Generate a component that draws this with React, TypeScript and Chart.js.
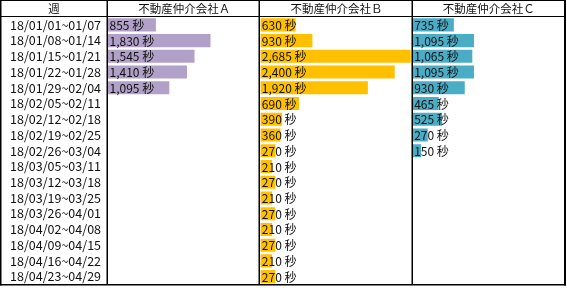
import React, { useEffect, useRef } from 'react';
import { Chart, registerables } from 'chart.js';

Chart.register(...registerables);

const weeks = [
  '18/01/01~01/07', '18/01/08~01/14', '18/01/15~01/21', '18/01/22~01/28', '18/01/29~02/04',
  '18/02/05~02/11', '18/02/12~02/18', '18/02/19~02/25', '18/02/26~03/04', '18/03/05~03/11',
  '18/03/12~03/18', '18/03/19~03/25', '18/03/26~04/01', '18/04/02~04/08', '18/04/09~04/15',
  '18/04/16~04/22', '18/04/23~04/29',
];
const headerWeek = '週';
const seriesNames = ['不動産仲介会社Ａ', '不動産仲介会社Ｂ', '不動産仲介会社Ｃ'];
const companyA = [855, 1830, 1545, 1410, 1095, null, null, null, null, null, null, null, null, null, null, null, null];
const companyB = [630, 930, 2685, 2400, 1920, 690, 390, 360, 270, 210, 270, 210, 270, 210, 270, 210, 270];
const companyC = [735, 1095, 1065, 1095, 930, 465, 525, 270, 150, null, null, null, null, null, null, null, null];
const unit = '秒';
const seriesColors = ['#B1A0C7', '#FFC000', '#4BACC6'];
const axisMax = 2720;

const FONT = '"Noto Sans CJK JP", "Noto Sans", sans-serif';
const FONT_SIZE = 12;
const HEADER_SIZE = 11.5;

const tablePlugin = {
  id: 'tableGrid',
  afterDatasetsDraw(chart: any) {
    const ctx = chart.ctx as CanvasRenderingContext2D;
    const area = chart.chartArea;
    const xs = ['xA', 'xB', 'xC'].map((id) => chart.scales[id]);
    ctx.save();
    ctx.font = `${FONT_SIZE}px ${FONT}`;
    ctx.fillStyle = '#111';
    ctx.textBaseline = 'middle';
    ctx.textAlign = 'left';
    chart.data.datasets.forEach((ds: any, di: number) => {
      const meta = chart.getDatasetMeta(di);
      const sc = xs[di];
      meta.data.forEach((el: any, i: number) => {
        const v = ds.data[i];
        if (v == null) return;
        ctx.fillText(`${v.toLocaleString('en-US')} ${unit}`, sc.left + 1.5, el.y + 0.5);
      });
    });
    const headerY = area.top / 2 + 0.5;
    ctx.font = `${HEADER_SIZE}px ${FONT}`;
    ctx.textAlign = 'center';
    ctx.fillText(headerWeek, area.left / 2, headerY);
    xs.forEach((sc: any, i: number) => ctx.fillText(seriesNames[i], (sc.left + sc.right) / 2, headerY));

    ctx.fillStyle = '#000';
    const bottom = area.bottom;
    const right = area.right;
    // outer frame
    ctx.fillRect(0, 0, 1.5, bottom + 1);
    ctx.fillRect(0, 0, right + 1, 1);
    ctx.fillRect(right - 1, 0, 2, bottom + 1);
    ctx.fillRect(0, bottom - 0.5, right + 1, 1.5);
    // header line
    ctx.fillRect(0, area.top - 1, right, 1);
    // column lines
    xs.forEach((sc: any) => {
      ctx.fillRect(Math.round(sc.left) - 1.5, 0, 1.5, bottom);
    });
    ctx.restore();
  },
};

export default function App() {
  const ref = useRef<HTMLCanvasElement | null>(null);
  useEffect(() => {
    if (!ref.current) return;
    Chart.defaults.font.family = FONT;
    Chart.defaults.font.size = FONT_SIZE;
    const xScale = () => ({
      type: 'linear' as const,
      axis: 'x' as const,
      position: 'bottom' as const,
      stack: 'cols',
      stackWeight: 1,
      display: false,
      min: 0,
      max: axisMax,
    });
    const chart = new Chart(ref.current, {
      type: 'bar',
      data: {
        labels: weeks,
        datasets: [companyA, companyB, companyC].map((d, i) => ({
          label: seriesNames[i],
          data: d as any,
          backgroundColor: seriesColors[i],
          borderWidth: 0,
          xAxisID: ['xA', 'xB', 'xC'][i],
          yAxisID: 'y',
          grouped: false,
          barPercentage: 0.83,
          categoryPercentage: 1,
        })),
      },
      options: {
        indexAxis: 'y',
        responsive: false,
        animation: false,
        layout: { padding: { left: 10, top: 17, right: 2, bottom: 3 } },
        plugins: { legend: { display: false }, tooltip: { enabled: false }, title: { display: false } },
        scales: {
          y: {
            type: 'category',
            position: 'left',
            grid: { display: false, drawTicks: false },
            border: { display: false },
            ticks: {
              crossAlign: 'far',
              padding: 0,
              color: '#111',
              autoSkip: false,
              font: { family: FONT, size: 12.5 },
            },
            afterFit: (scale: any) => {
              scale.width = 98;
            },
          },
          xA: xScale(),
          xB: xScale(),
          xC: xScale(),
        } as any,
      },
      plugins: [tablePlugin],
    });
    return () => chart.destroy();
  }, []);
  return (
    <div style={{ position: 'absolute', left: 0, top: 0, width: 567, height: 292, background: '#fff' }}>
      <canvas ref={ref} width={567} height={292} style={{ display: 'block' }} />
    </div>
  );
}
